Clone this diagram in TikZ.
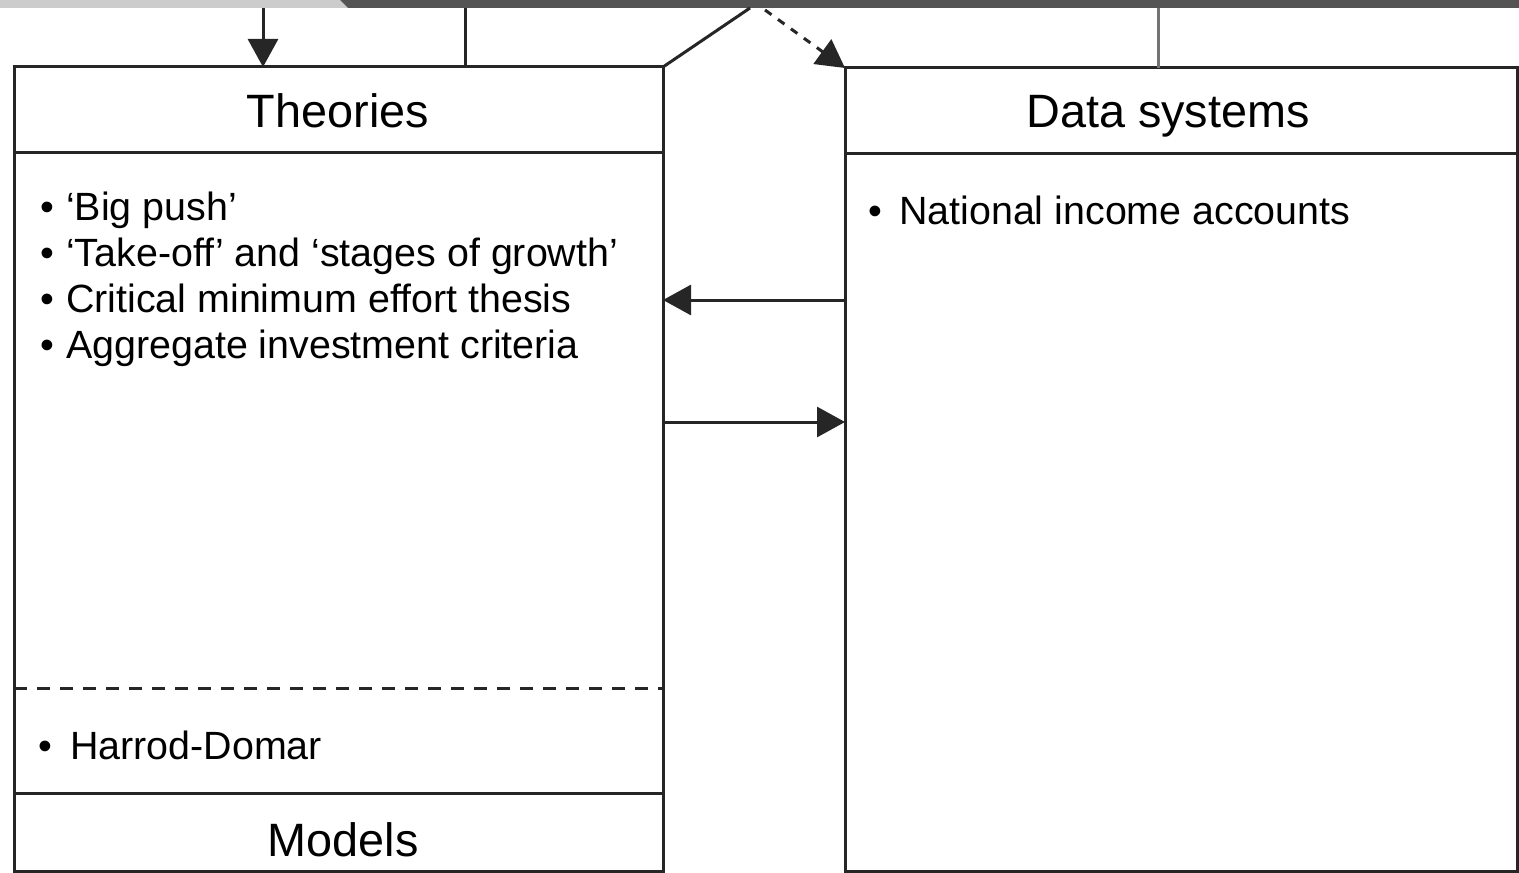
\documentclass[tikz,border=0pt]{standalone}
\usepackage{fontspec}
\setmainfont{Liberation Sans}
\usetikzlibrary{arrows.meta}
\begin{document}
\begin{tikzpicture}[x=0.5pt,y=-0.5pt,
  ln/.style={line width=1.5pt, draw=black!85},
  box/.style={ln, rectangle, inner sep=0pt, outer sep=0pt},
  head/.style={font=\fontsize{23.4pt}{26pt}\selectfont, anchor=base, inner sep=0pt},
  item/.style={font=\fontsize{19.7pt}{22pt}\selectfont, anchor=base west, inner sep=0pt},
  tip/.style={-{Triangle[length=14pt,width=15pt]}},
  dashline/.style={dash pattern=on 6.5pt off 5pt}]
\useasboundingbox (0,0) rectangle (1519,872);
% top banner
\fill[black!20] (0,0) -- (340,0) -- (348,8) -- (0,8) -- cycle;
\fill[black!67] (340,0) -- (1519,0) -- (1519,8) -- (348,8) -- cycle;
% boxes
\node[box, minimum width=324.5pt, minimum height=402pt] (theo) at (338.5,469) {};
\node[box, minimum width=336pt, minimum height=401.5pt] (data) at (1181,469.5) {};
% divider lines
\draw[ln] (theo.west |- 0,152) -- (theo.east |- 0,152);
\draw[ln, dashline] (theo.west |- 0,688) -- (theo.east |- 0,688);
\draw[ln] (theo.west |- 0,793) -- (theo.east |- 0,793);
\draw[ln] (data.west |- 0,153) -- (data.east |- 0,153);
% texts
\node[head] (theoh) at (338,127) {Theories};
\node[head] (datah) at (1168,127) {Data systems};
\node[head] (modh) at (343,856) {Models};
\node[item] (t1) at (40,220) {•\hspace{6pt}‘Big push’};
\node[item] (t2) at (40,266) {•\hspace{6pt}‘Take-off’ and ‘stages of growth’};
\node[item] (t3) at (40,312) {•\hspace{6pt}Critical minimum effort thesis};
\node[item] (t4) at (40,358) {•\hspace{6pt}Aggregate investment criteria};
\node[item] (m1) at (38,759) {•\hspace{9pt}Harrod-Domar};
\node[item] (d1) at (868,224) {•\hspace{8.5pt}National income accounts};
% connectors at top
\coordinate (a1) at (263,8);
\coordinate (a2) at (465,8);
\coordinate (a3) at (1158,8);
\coordinate (peak) at (750,8);
\coordinate (dstart) at (765,10);
\draw[ln, tip] (a1) -- (theo.north -| a1);
\draw[ln] (a2) -- (theo.north -| a2);
\draw[ln, draw=black!55] (a3) -- (data.north -| a3);
\draw[ln] (theo.north east) -- (peak);
\draw[ln, tip, dash pattern=on 4pt off 4pt] (dstart) -- (data.north west);
% connectors between boxes
\draw[ln, tip] (data.west |- 0,300) -- (theo.east |- 0,300);
\draw[ln, tip] (theo.east |- 0,422) -- (data.west |- 0,422);
\end{tikzpicture}
\end{document}
